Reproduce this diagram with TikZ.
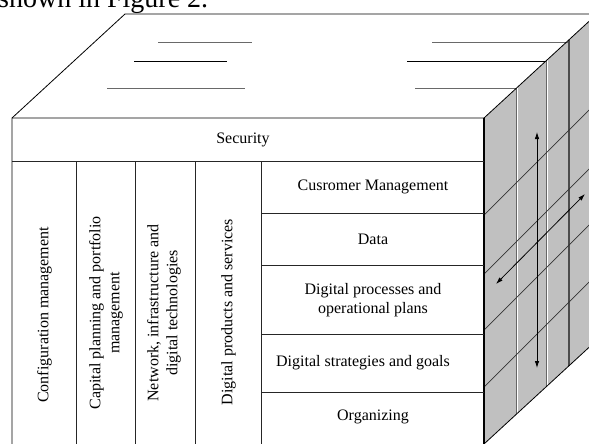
\documentclass[tikz,border=0pt]{standalone}
\usepackage{fontspec}
\setmainfont{Liberation Serif}
\usetikzlibrary{arrows.meta}
\definecolor{sidegray}{RGB}{192,192,192}
\definecolor{rulegray}{RGB}{105,105,105}

\begin{document}
\begin{tikzpicture}[x=1pt,y=-1pt,
		lbl/.style={font=\fontsize{16}{19}\selectfont,align=center,inner sep=0pt},
		vlbl/.style={lbl,rotate=90},
		rim/.style={line width=0.8},
		cell/.style={line width=0.7,draw=black!85},
		slice/.style={line width=0.7,draw=black!80},
		dbl/.style={line width=0.4,draw=black!60,double=white,double distance=0.9},
		twoway/.style={line width=0.8,{Latex[length=7pt,width=4.5pt]}-{Latex[length=7pt,width=4.5pt]}}]
		\useasboundingbox (0,0) rectangle (589,444);
		\clip (0,0) rectangle (589,444);
		\coordinate (FTL) at (12,118);
		\coordinate (FTR) at (484,118);
		\coordinate (FBL) at (12,444);
		\coordinate (FBR) at (484,444);
		\coordinate (BTL) at (125,14);
		\coordinate (BTR) at (597,14);
		\coordinate (BBR) at (597,340);
		\fill[sidegray] (FTR) -- (BTR) -- (BBR) -- (FBR) -- cycle;
		\draw[rulegray,line width=0.8] (158,42) -- (252,42) (432,42) -- (569,42);
		\draw[line width=0.7] (134,61) -- (227,61) (407,61) -- (547,61);
		\draw[rulegray,line width=0.8] (107,88) -- (245,88) (415,88) -- (517,88);
		\draw[dbl] (517,87.6) -- (517,413.6);
		\draw[dbl] (547,60) -- (547,386);
		\draw[line width=1.2,black!70] (569,40) -- (569,366);
		\draw[slice] (484,215) -- (597,102);
		\draw[slice] (484,274) -- (597,161);
		\draw[slice] (484,330) -- (597,217);
		\draw[slice] (484,387) -- (597,274);
		\coordinate (up) at (537,132);
		\coordinate (down) at (537,368);
		\coordinate (fore) at (496,284);
		\coordinate (back) at (585,194);
		\draw[twoway] (up) -- (down);
		\draw[twoway] (fore) -- (back);
		\draw[rim] (FBL) -- (FTL) -- (BTL) -- (BTR);
		\draw[rim] (FTL) -- (FTR) -- (BTR);
		\draw[rim] (FBR) -- (BBR);
		\draw[line width=1.3] (FTR) -- (FBR);
		\draw[cell] (12,161) -- (484,161);
		\draw[cell] (76.7,161) -- (76.7,444);
		\draw[cell] (135,161) -- (135,444);
		\draw[cell] (195.7,161) -- (195.7,444);
		\draw[cell] (261.7,161) -- (261.7,444);
		\draw[cell] (261.7,213) -- (484,213);
		\draw[cell] (261.7,265) -- (484,265);
		\draw[cell] (261.7,334) -- (484,334);
		\draw[cell] (261.7,392) -- (484,392);
		\node[lbl] (sec) at (243,140) {Security};
		\node[lbl] (cust) at (373,187) {Cusromer Management};
		\node[lbl] (data) at (373,239) {Data};
		\node[lbl] (proc) at (373,300) {Digital processes and\\operational plans};
		\node[lbl] (strat) at (363,363) {Digital strategies and goals};
		\node[lbl] (org) at (373,417) {Organizing};
		\node[vlbl] (conf) at (44.5,315) {Configuration management};
		\node[vlbl] (cap) at (106,313) {Capital planning and portfolio\\management};
		\node[vlbl] (net) at (164,313) {Network, infrastructure and\\digital technologies};
		\node[vlbl] (prod) at (228.5,312) {Digital products and services};
		\node[font=\fontsize{28}{30}\selectfont,anchor=base west,inner sep=0pt] (capt) at (-2,8) {shown in Figure 2.};
	\end{tikzpicture}
\end{document}
